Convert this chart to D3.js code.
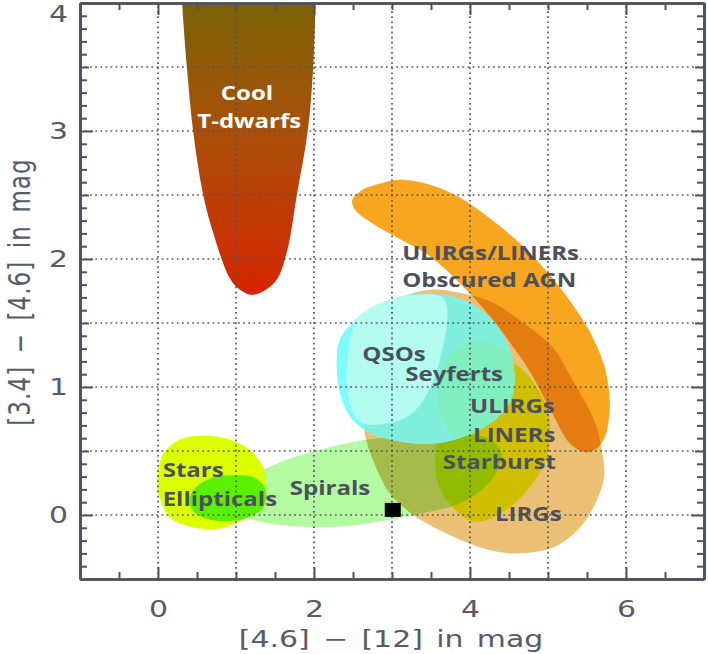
<!DOCTYPE html>
<html><head><meta charset="utf-8">
<script src="https://cdn.jsdelivr.net/npm/d3@7"></script>
<style>
html,body{margin:0;padding:0;background:#fff;}
svg{display:block;}
</style></head>
<body>
<svg id="chart" width="708" height="654"></svg>
<script>
// ---------------- data (in magnitudes) ----------------
const xDomain = [-1, 7];
const yDomain = [-0.5, 4];
const xTickLabels = [0, 2, 4, 6];
const yTickLabels = [0, 1, 2, 3, 4];
const xGridValues = [0, 1, 2, 3, 4, 5, 6];
const yGridValues = [0, 0.5, 1, 1.5, 2, 2.5, 3, 3.5];

const tDwarfs = [[0.30,4.5],[0.30,4.2],[0.31,4.0],[0.37,3.5],[0.45,3.0],[0.58,2.5],[0.71,2.2],[0.92,1.85],[1.05,1.76],[1.22,1.72],[1.5,1.82],[1.65,2.05],[1.78,2.5],[1.92,3.0],[1.99,3.5],[2.02,4.0],[2.03,4.2],[2.03,4.5]];
const obscuredAGN = [[2.49,2.46],[2.62,2.54],[2.85,2.59],[3.10,2.62],[3.49,2.58],[3.87,2.48],[4.29,2.30],[4.73,2.07],[5.15,1.78],[5.50,1.47],[5.71,1.19],[5.78,0.98],[5.79,0.82],[5.73,0.61],[5.60,0.51],[5.47,0.49],[5.28,0.56],[5.05,0.80],[4.77,1.12],[4.51,1.35],[4.22,1.58],[3.87,1.81],[3.49,2.02],[3.06,2.17],[2.72,2.29],[2.53,2.38]];
const lirgs = [[3.49,1.76],[3.83,1.74],[4.29,1.66],[4.64,1.52],[5.06,1.31],[5.29,1.08],[5.59,0.74],[5.69,0.51],[5.72,0.30],[5.63,0.12],[5.42,-0.09],[5.08,-0.25],[4.60,-0.30],[4.22,-0.27],[3.79,-0.17],[3.37,-0.04],[3.19,0.04],[2.97,0.17],[2.81,0.35],[2.68,0.56],[2.64,0.71],[2.67,1.05],[2.72,1.21],[2.82,1.41],[2.95,1.58],[3.14,1.70]];
const starburst = [[3.56,0.59],[3.58,0.27],[3.74,0.09],[4.04,-0.05],[4.42,0.02],[4.77,0.22],[4.96,0.41],[5.03,0.59],[5.00,0.80],[4.87,0.98],[4.64,1.15],[4.32,1.23],[3.94,1.20],[3.71,1.05],[3.59,0.82]];
const spirals = [[0.92,0.08],[1.12,0.27],[1.56,0.41],[2.08,0.51],[2.68,0.59],[3.32,0.62],[3.87,0.63],[4.26,0.59],[4.41,0.47],[4.35,0.35],[4.19,0.22],[3.87,0.09],[3.36,0.01],[2.85,-0.05],[2.33,-0.09],[1.82,-0.09],[1.37,-0.06],[1.05,0.0]];
const stars = [[-0.01,0.25],[0.06,0.47],[0.28,0.59],[0.60,0.62],[0.92,0.59],[1.21,0.49],[1.36,0.35],[1.37,0.20],[1.28,0.05],[1.05,-0.05],[0.73,-0.11],[0.41,-0.09],[0.15,-0.02],[0.03,0.12]];
const ellipticals = [[0.40,0.12],[0.49,0.22],[0.69,0.29],[0.99,0.31],[1.24,0.29],[1.38,0.20],[1.35,0.06],[1.15,-0.02],[0.86,-0.05],[0.58,-0.02],[0.44,0.04]];
const qsos = [[2.29,1.17],[2.33,1.37],[2.46,1.48],[2.68,1.60],[3.06,1.70],[3.49,1.73],[3.91,1.68],[4.26,1.54],[4.47,1.35],[4.56,1.16],[4.54,0.92],[4.35,0.76],[4.00,0.63],[3.58,0.56],[3.14,0.57],[2.72,0.64],[2.50,0.74],[2.35,0.91]];
const qsoCore = [[2.72,1.68],[3.10,1.71],[3.65,1.70],[3.71,1.56],[3.65,1.31],[3.53,1.05],[3.36,0.86],[3.17,0.76],[2.91,0.71],[2.62,0.72],[2.49,0.82],[2.42,1.02],[2.44,1.25],[2.50,1.46]];
const seyferts = [[3.58,0.96],[3.65,1.17],[3.82,1.30],[4.13,1.36],[4.45,1.30],[4.67,1.17],[4.74,0.96],[4.67,0.74],[4.45,0.61],[4.13,0.55],[3.82,0.61],[3.65,0.74]];
const sourcePoint = [[3.01, 0.04]];

const regionLabels = [
  {text:"Cool", at:[1.14,3.24], anchor:"middle", light:true},
  {text:"T-dwarfs", at:[1.17,3.02], anchor:"middle", light:true},
  {text:"ULIRGs/LINERs", at:[3.13,1.99]},
  {text:"Obscured AGN", at:[3.13,1.78]},
  {text:"QSOs", at:[2.62,1.20]},
  {text:"Seyferts", at:[3.17,1.05]},
  {text:"ULIRGs", at:[4.00,0.80]},
  {text:"LINERs", at:[4.04,0.57]},
  {text:"Starburst", at:[3.65,0.36]},
  {text:"LIRGs", at:[4.32,-0.05]},
  {text:"Stars", at:[0.06,0.30]},
  {text:"Ellipticals", at:[0.06,0.07]},
  {text:"Spirals", at:[1.69,0.16]}
];

// ---------------- layout ----------------
const svg = d3.select("#chart");
const x = d3.scaleLinear().domain(xDomain).range([80, 704]);
const y = d3.scaleLinear().domain(yDomain).range([579, 3]);
const AX = "#4e535d";
const TXT = "#4b505c";

svg.append("rect").attr("width",708).attr("height",654).attr("fill","#fff");
const defs = svg.append("defs");
defs.append("clipPath").attr("id","plotClip").append("rect")
  .attr("x",x(xDomain[0])).attr("y",y(yDomain[1])).attr("width",x(xDomain[1])-x(xDomain[0])).attr("height",y(yDomain[0])-y(yDomain[1]));

const shape = d3.line().x(d=>x(d[0])).y(d=>y(d[1])).curve(d3.curveCatmullRomClosed.alpha(0.5));
defs.append("clipPath").attr("id","qsoClip").append("path").attr("d",shape(qsos));

const grad = defs.append("linearGradient").attr("id","tdGrad").attr("gradientUnits","userSpaceOnUse")
  .attr("x1",0).attr("x2",0).attr("y1",y(4)).attr("y2",y(1.72));
[[0,"#7b6307"],[0.44,"#a9500a"],[0.87,"#cc2f04"],[1,"#d62400"]].forEach(s=>grad.append("stop").attr("offset",s[0]).attr("stop-color",s[1]));

const plot = svg.append("g").attr("clip-path","url(#plotClip)");
plot.append("path").attr("d",shape(tDwarfs)).attr("fill","url(#tdGrad)");
const mult = (g,data,col)=>g.append("path").attr("d",shape(data)).attr("fill",col).style("mix-blend-mode","multiply");
plot.append("path").attr("d",shape(spirals)).attr("fill","#b4faa0");
plot.append("path").attr("d",shape(stars)).attr("fill","#dcff00");
plot.append("path").attr("d",shape(ellipticals)).attr("fill","#5af000");
mult(plot,lirgs,"#ebbf74");
mult(plot,obscuredAGN,"#f8a520");
mult(plot,starburst,"#e2ff00");
plot.append("path").attr("d",shape(qsos)).attr("fill","#7efcfc");
const qg = plot.append("g").attr("clip-path","url(#qsoClip)");
qg.append("path").attr("d",shape(lirgs)).attr("fill","#80eedc");
qg.append("path").attr("d",shape(qsoCore)).attr("fill","#b4fcef");
qg.append("path").attr("d",shape(seyferts)).attr("fill","#80eec0");

// grid
const grid = svg.append("g").attr("stroke","#4e535d").attr("stroke-width",1.7).attr("stroke-dasharray","1.7,3.4");
grid.selectAll("line.v").data(xGridValues).join("line").attr("x1",d=>x(d)).attr("x2",d=>x(d)).attr("y1",y(yDomain[0])).attr("y2",y(yDomain[1]));
grid.selectAll("line.h").data(yGridValues).join("line").attr("y1",d=>y(d)).attr("y2",d=>y(d)).attr("x1",x(xDomain[0])).attr("x2",x(xDomain[1]));

// axes
function styleAxis(g){
  g.select(".domain").attr("stroke",AX).attr("stroke-width",2.5);
  g.selectAll(".tick line").attr("stroke",AX).attr("stroke-width",2);
}
const fmt = d3.format("d");
const xMinor = x.ticks(16).filter(v=>!xTickLabels.includes(v));
const yAll = y.ticks(45);
const isInt = v=>Math.abs(v-Math.round(v))<1e-6;
const isHalf = v=>!isInt(v) && Math.abs(v*2-Math.round(v*2))<1e-6;
const yTenth = yAll.filter(v=>!isInt(v)&&!isHalf(v));
const yHalf = yAll.filter(isHalf);

const gB = svg.append("g").attr("transform",`translate(0,${y(yDomain[0])})`);
gB.append("g").call(d3.axisBottom(x).tickValues(xMinor).tickSize(-7).tickSizeOuter(0).tickFormat("")).call(styleAxis);
gB.append("g").attr("class","lab").call(d3.axisBottom(x).tickValues(xTickLabels).tickSize(-12).tickSizeOuter(0).tickPadding(22).tickFormat(fmt)).call(styleAxis);
const gT = svg.append("g").attr("transform",`translate(0,${y(yDomain[1])})`);
gT.append("g").call(d3.axisTop(x).tickValues(xMinor).tickSize(-7).tickSizeOuter(0).tickFormat("")).call(styleAxis);
gT.append("g").call(d3.axisTop(x).tickValues(xTickLabels).tickSize(-12).tickSizeOuter(0).tickFormat("")).call(styleAxis);
const gL = svg.append("g").attr("transform",`translate(${x(xDomain[0])},0)`);
gL.append("g").call(d3.axisLeft(y).tickValues(yTenth).tickSize(-7).tickSizeOuter(0).tickFormat("")).call(styleAxis);
gL.append("g").call(d3.axisLeft(y).tickValues(yHalf).tickSize(-9).tickSizeOuter(0).tickFormat("")).call(styleAxis);
gL.append("g").attr("class","lab").call(d3.axisLeft(y).tickValues(yTickLabels).tickSize(-13).tickSizeOuter(0).tickPadding(12).tickFormat(fmt)).call(styleAxis);
const gR = svg.append("g").attr("transform",`translate(${x(xDomain[1])},0)`);
gR.append("g").call(d3.axisRight(y).tickValues(yTenth).tickSize(-7).tickSizeOuter(0).tickFormat("")).call(styleAxis);
gR.append("g").call(d3.axisRight(y).tickValues(yHalf).tickSize(-9).tickSizeOuter(0).tickFormat("")).call(styleAxis);
gR.append("g").call(d3.axisRight(y).tickValues(yTickLabels).tickSize(-13).tickSizeOuter(0).tickFormat("")).call(styleAxis);

svg.selectAll(".lab .tick text").each(function(d){
  const t = d3.select(this);
  const tx = +t.attr("x")||0;
  let ty = +t.attr("y")||0;
  // keep the top label inside the picture, as in the original
  const node = this.parentNode;
  const ty0 = +(node.getAttribute("transform")||"").split(/[(,)]/)[2] || 0;
  if (ty0 + ty < 15) ty = 15 - ty0;
  t.attr("x",0).attr("y",0).attr("transform",`translate(${tx},${ty}) scale(1.3,1)`)
   .attr("font-family","DejaVu Sans").attr("font-size",23).attr("fill","#565b65");
});

// axis titles
svg.append("text").attr("transform",`translate(${(x(xDomain[0])+x(xDomain[1]))/2-1},647) scale(1.3,1)`)
  .attr("text-anchor","middle").attr("font-family","DejaVu Sans").attr("font-size",23).attr("fill","#565b65")
  .attr("word-spacing",3).text("[4.6] \u2212 [12] in mag");
svg.append("text").attr("transform",`translate(30,292) scale(1.3,1) rotate(-90)`)
  .attr("text-anchor","middle").attr("font-family","DejaVu Sans").attr("font-size",23).attr("fill","#565b65")
  .attr("word-spacing",4).attr("letter-spacing",1.1).text("[3.4] \u2212 [4.6] in mag");

// source marker
svg.selectAll("rect.src").data(sourcePoint).join("rect").attr("class","src")
  .attr("x",d=>x(d[0])-8).attr("y",d=>y(d[1])-7).attr("width",16).attr("height",14).attr("fill","#000");

// region labels
svg.append("g").selectAll("text").data(regionLabels).join("text")
  .attr("transform",d=>`translate(${x(d.at[0])},${y(d.at[1])}) scale(1.2,1)`)
  .attr("text-anchor",d=>d.anchor||"start")
  .attr("font-family","Open Sans").attr("font-weight",700).attr("font-size",20)
  .attr("fill",d=>d.light?"#ffffff":TXT).text(d=>d.text);
</script>
</body></html>
